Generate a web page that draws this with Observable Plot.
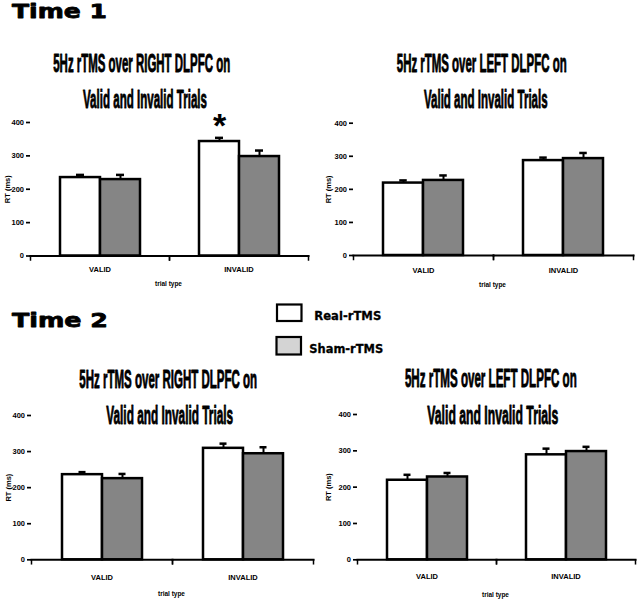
<!DOCTYPE html>
<html>
<head>
<meta charset="utf-8">
<script src="https://cdn.jsdelivr.net/npm/d3@7"></script>
<script src="https://cdn.jsdelivr.net/npm/@observablehq/plot@0.6"></script>
<style>
html, body { margin: 0; padding: 0; background: #fff; }
#root { position: relative; width: 640px; height: 599px; overflow: hidden; background: #fff; }
#root > svg { position: absolute; }
</style>
</head>
<body>
<div id="root"></div>
<script>
// ---------- data ----------
const trialTypes = ["VALID", "INVALID"];
const conditions = ["Real-rTMS", "Sham-rTMS"];
const timeLabels = ["Time 1", "Time 2"];
const titleLine1 = ["5Hz rTMS over RIGHT DLPFC on", "5Hz rTMS over LEFT DLPFC on"];
const titleLine2 = "Valid and Invalid Trials";
const yTicks = [0, 100, 200, 300, 400];
const yLabel = "RT (ms)";
const xLabel = "trial type";

// mean RT (ms) and error for [VALID, INVALID]
const t1RightReal = [235, 343], t1RightRealErr = [8, 11];
const t1RightSham = [229, 298], t1RightShamErr = [14, 18];
const t1LeftReal = [219, 287], t1LeftRealErr = [8, 9];
const t1LeftSham = [227, 293], t1LeftShamErr = [15, 17];
const t2RightReal = [236, 309], t2RightRealErr = [7, 13];
const t2RightSham = [225, 294], t2RightShamErr = [13, 18];
const t2LeftReal = [219, 289], t2LeftRealErr = [15, 17];
const t2LeftSham = [228, 298], t2LeftShamErr = [11, 13];
const significantT1Right = [["INVALID", "Real-rTMS"]];

// ---------- layout ----------
const panels = [
  {real: t1RightReal, realErr: t1RightRealErr, sham: t1RightSham, shamErr: t1RightShamErr, title: titleLine1[0], sig: significantT1Right,
   left: 0, top: 100, width: 318, height: 200, mL: 30, mR: 10, mT: 22, mB: 44.5, bar: 40, xPad: 11,
   l1: [141.7, 71.7, 177], l2: [145, 108.3, 124], tt: [168.5, 286]},
  {real: t1LeftReal, realErr: t1LeftRealErr, sham: t1LeftSham, shamErr: t1LeftShamErr, title: titleLine1[1], sig: [],
   left: 320, top: 100, width: 320, height: 200, mL: 32, mR: 7, mT: 22.7, mB: 45, bar: 40.5, xPad: 12,
   l1: [481.7, 71.7, 170], l2: [485.8, 108.3, 123.7], tt: [492.5, 287]},
  {real: t2RightReal, realErr: t2RightRealErr, sham: t2RightSham, shamErr: t2RightShamErr, title: titleLine1[0], sig: [],
   left: 0, top: 395, width: 320, height: 204, mL: 30, mR: 7, mT: 20, mB: 39.7, bar: 41, xPad: 15,
   l1: [168.2, 388.3, 178], l2: [169.7, 424, 127], tt: [171.5, 595.5]},
  {real: t2LeftReal, realErr: t2LeftRealErr, sham: t2LeftSham, shamErr: t2LeftShamErr, title: titleLine1[1], sig: [],
   left: 320, top: 395, width: 320, height: 204, mL: 36, mR: 5, mT: 19, mB: 39.7, bar: 41, xPad: 14,
   l1: [490.8, 387.3, 172], l2: [492.8, 424, 131], tt: [495.5, 597]}
];

const root = document.getElementById("root");

function drawPanel(p) {
  const rows = trialTypes.flatMap((t, i) => [
    {trial: t, cond: conditions[0], rt: p.real[i], err: p.realErr[i]},
    {trial: t, cond: conditions[1], rt: p.sham[i], err: p.shamErr[i]}
  ]);
  const sigRows = rows.filter(r => p.sig.some(([t, c]) => t === r.trial && c === r.cond));
  const plotW = p.width - p.mL - p.mR;
  const plotH = p.height - p.mT - p.mB;
  const bw = plotW / 2;
  const po = (bw / p.bar - 2) / 2;
  const capInset = (p.bar - 8) / 2;
  const chart = Plot.plot({
    width: p.width, height: p.height,
    marginLeft: p.mL, marginRight: p.mR, marginTop: p.mT, marginBottom: p.mB,
    style: {fontFamily: "'Liberation Sans', Arial, sans-serif", fontWeight: "bold", fontSize: "7.5px", background: "none", overflow: "visible", color: "#000"},
    fx: {domain: trialTypes, padding: 0},
    x: {domain: conditions, paddingInner: 0, paddingOuter: po, axis: null},
    y: {domain: [0, 400]},
    color: {domain: conditions, range: ["#ffffff", "#858585"]},
    marks: [
      Plot.barY(rows, {fx: "trial", x: "cond", y: "rt", fill: "cond", stroke: "#000", strokeWidth: 2.5}),
      Plot.ruleX(rows, {fx: "trial", x: "cond", y1: "rt", y2: d => d.rt + d.err, stroke: "#000", strokeWidth: 2}),
      Plot.tickY(rows, {fx: "trial", x: "cond", y: d => d.rt + d.err, stroke: "#000", strokeWidth: 2.5, insetLeft: capInset, insetRight: capInset}),
      Plot.text(sigRows, {fx: "trial", x: "cond", y: d => d.rt + d.err, text: () => "*", fontSize: 34, fontWeight: "bold", dy: -12}),
      Plot.axisY({ticks: yTicks, tickSize: 4, tickPadding: 2.5, line: true, strokeWidth: 1.7,
                  label: yLabel, labelAnchor: "center", labelArrow: "none", labelOffset: p.mL - 4, fontSize: 7.5}),
      Plot.axisFx({anchor: "bottom", tickSize: 0, tickPadding: p.xPad, label: null, fontSize: 7.5}),
      Plot.frame({anchor: "bottom", strokeWidth: 2}),
      Plot.frame({anchor: "left", insetTop: plotH, insetBottom: -4, strokeWidth: 1.5}),
      Plot.frame({anchor: "right", insetTop: plotH, insetBottom: -4, strokeWidth: 1.5})
    ]
  });
  chart.style.left = p.left + "px";
  chart.style.top = p.top + "px";
  root.appendChild(chart);
}

panels.forEach(drawPanel);

// ---------- overlay texts: titles, time labels, legend ----------
const ov = d3.select(root).append("svg")
  .attr("width", 640).attr("height", 599)
  .style("left", "0px").style("top", "0px").style("overflow", "visible");

// text horizontally scaled to a target width (condensed / expanded lettering)
function addText(s, x, y, size, len, family, anchor = "middle", weightStroke = 0) {
  const t = ov.append("text")
    .attr("x", 0).attr("y", 0)
    .attr("text-anchor", anchor)
    .attr("font-family", family)
    .attr("font-weight", "bold")
    .attr("font-size", size)
    .attr("fill", "#000")
    .text(s);
  if (weightStroke > 0) t.attr("stroke", "#000").attr("stroke-width", weightStroke).attr("stroke-linejoin", "round");
  const natural = t.node().getComputedTextLength() || len;
  const sx = len / natural;
  t.attr("transform", `translate(${x},${y}) scale(${sx},1)`);
}

const titleFont = "'Liberation Sans Narrow', 'Liberation Sans', Arial, sans-serif";
panels.forEach(p => {
  addText(p.title, p.l1[0], p.l1[1], 26, p.l1[2], titleFont, "middle", 0.9);
  addText(titleLine2, p.l2[0], p.l2[1], 26, p.l2[2], titleFont, "middle", 0.9);
  addText(xLabel, p.tt[0], p.tt[1], 6.5, 27, "'Liberation Sans', Arial, sans-serif");
});

const timeFont = "'DejaVu Sans', Verdana, sans-serif";
addText(timeLabels[0], 12, 18.3, 19.5, 95, timeFont, "start", 0.8);
addText(timeLabels[1], 12, 327, 20, 96, timeFont, "start", 0.8);

// legend
const legendFills = ["#ffffff", "#d4d4d4"];
const legendRects = [[277, 304.5, 24.5, 16.5], [276.5, 337, 24.5, 17.5]];
const legendTexts = [[314.3, 320, 67], [309.3, 353.3, 74]];
conditions.forEach((c, i) => {
  const [rx, ry, rw, rh] = legendRects[i];
  ov.append("rect").attr("x", rx).attr("y", ry).attr("width", rw).attr("height", rh)
    .attr("fill", legendFills[i]).attr("stroke", "#000").attr("stroke-width", 2.2);
  const [tx, ty, tl] = legendTexts[i];
  addText(c, tx, ty, 11.5, tl, timeFont, "start", 0.3);
});
</script>
</body>
</html>
